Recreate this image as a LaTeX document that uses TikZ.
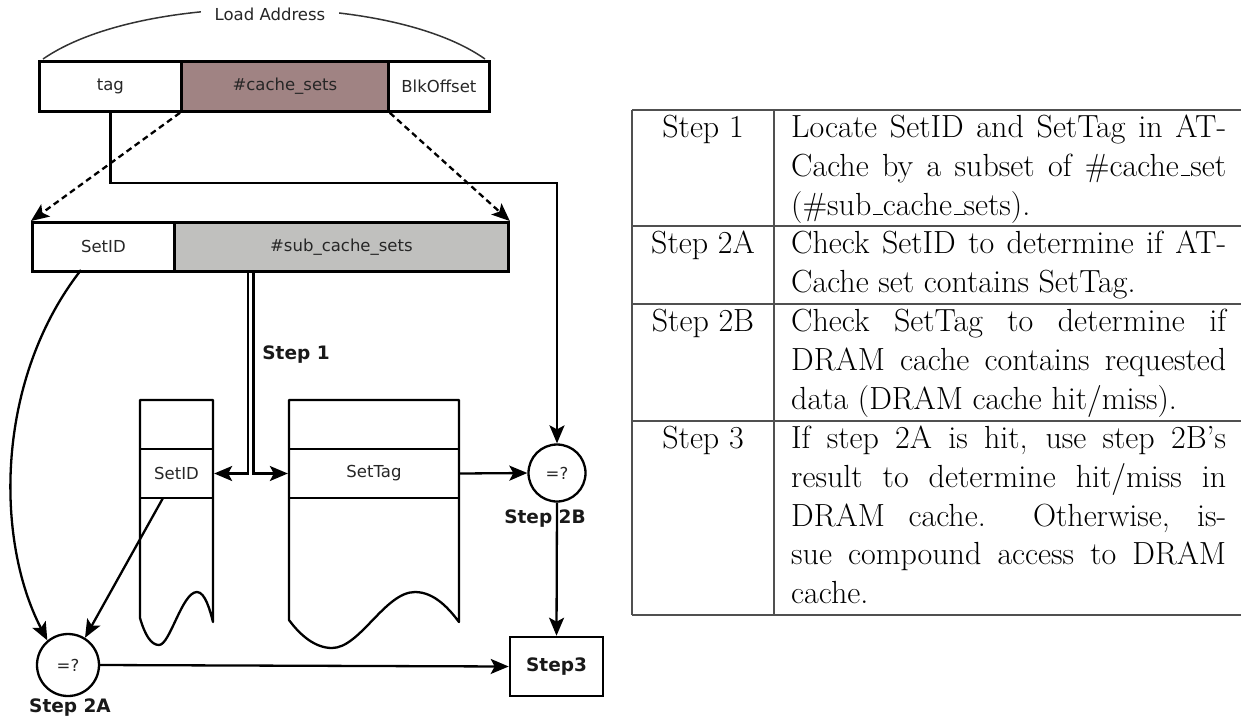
\documentclass[tikz,border=0pt]{standalone}
\usepackage{fontspec}
\newfontfamily\dv{DejaVu Sans}
\usetikzlibrary{arrows.meta}
\newcommand\usc{\leavevmode\kern.06em\vbox{\hrule width .3em height 1.3pt}}
\definecolor{csets}{RGB}{160,131,131}
\definecolor{subsets}{RGB}{192,192,190}
\definecolor{tline}{RGB}{80,80,80}
\begin{document}
\begin{tikzpicture}[x=1pt,y=-1pt,
 lbl/.style={font=\dv\fontsize{16.5}{19}\selectfont, text=black!85},
 blbl/.style={font=\dv\bfseries\fontsize{18.5}{22}\selectfont, text=black!90},
 fld/.style={draw, line width=2.8pt, inner sep=0pt, anchor=north west, lbl},
 rowbox/.style={draw, line width=2.3pt, inner sep=0pt, minimum height=49, lbl},
 arr/.style={line width=2.3pt, -{Stealth[length=18pt,width=15pt,inset=4pt]}},
 dsh/.style={arr, dash pattern=on 6pt off 4pt},
 cmp/.style={circle, draw, line width=2.3pt, inner sep=0pt, lbl},
 col/.style={line width=2.3pt, line join=round},
 tx/.style={font=\fontsize{32}{38.8}\selectfont, inner sep=0pt, anchor=base west},
 th/.style={font=\fontsize{32}{38.8}\selectfont, inner sep=0pt, anchor=base},
 tl/.style={line width=1.8pt, draw=tline},
]
\useasboundingbox (0,0) rectangle (1241,721);

% ---- address fields
\node[fld, minimum width=142, minimum height=50] (tag) at (38,60) {tag};
\node[fld, fill=csets, minimum width=207, minimum height=50] (cs) at (180,60) {\#cache\_sets};
\node[fld, minimum width=101, minimum height=50] (blk) at (387,60) {BlkOffset};

\coordinate (al) at (43,59);
\coordinate (ar) at (485,59);
\draw[line width=1.5pt, black!80] (al) .. controls (140,-8) and (390,-8) .. (ar);
\node[lbl, fill=white, inner xsep=14pt, inner ysep=2pt] (la) at (270,14) {Load Address};

\node[fld, minimum width=142, minimum height=49] (sid) at (31,221) {SetID};
\node[fld, fill=subsets, minimum width=334, minimum height=49] (sub) at (173,221) {\#sub\_cache\_sets};

\draw[dsh] (cs.south west) -- (sid.north west);
\draw[dsh] (cs.south east) -- (sub.north east);

% ---- columns
\draw[col] (140,400) -- (213,400) -- (213,622)
  .. controls (210,610) and (205,592) .. (197,592)
  .. controls (182,592) and (170,645) .. (159,645)
  .. controls (151,645) and (145,635) .. (140,618) -- cycle;
\draw[col] (289,400) -- (459,400) -- (459,622)
  .. controls (450,610) and (435,592) .. (415,592)
  .. controls (385,592) and (360,648) .. (332,648)
  .. controls (315,648) and (300,635) .. (289,620) -- cycle;
\node[rowbox, minimum width=73] (sidr) at (176.5,473.5) {SetID};
\node[rowbox, minimum width=170] (stag) at (374,473.5) {SetTag};

% ---- comparators and step 3
\node[cmp, minimum size=57] (c2b) at (557,473) {=?};
\node[cmp, minimum size=62] (c2a) at (68,665) {=?};
\node[draw, line width=2.6pt, minimum width=93, minimum height=59, blbl] (s3) at (556.5,666.5) {Step3};
\node[blbl] (s2b) at (545,519) {Step 2B};
\node[blbl] (s2a) at (70,708) {Step 2A};
\node[blbl] (s1) at (296,355) {Step 1};

% ---- connectors
\draw[arr] (tag.south) -- ++(0,70) -| (c2b.north);
\coordinate (d1) at (248,270);
\coordinate (d2) at (253.5,270);
\draw[arr] (d1) |- (sidr.east);
\draw[arr] (d2) |- (stag.west);
\draw[arr] (stag.east) -- (c2b.west);
\draw[arr] (c2b.south) -- (s3.north);
\draw[arr] (c2a.east) -- (s3.west);
\coordinate (sidb) at (81,270);
\draw[arr] (sidb) .. controls (-5,380) and (-5,540) .. (c2a.130);
\coordinate (sidrb) at (163,498);
\draw[arr] (sidrb) -- (c2a.58);

% ---- table
\draw[tl] (632,110) -- (1241,110);
\draw[tl] (632,226) -- (1241,226);
\draw[tl] (632,304) -- (1241,304);
\draw[tl] (632,421) -- (1241,421);
\draw[tl] (632,615) -- (1241,615);
\draw[tl] (632,110) -- (632,615);
\draw[tl] (774,110) -- (774,615);

\node[th] (h1) at (703,137.5) {Step 1};
\node[th] (h2) at (703,253.5) {Step 2A};
\node[th] (h3) at (703,331.5) {Step 2B};
\node[th] (h4) at (703,448.5) {Step 3};

\node[tx] (a1) at (791,137.5) {\makebox[435pt][s]{Locate SetID and SetTag in AT-}};
\node[tx] (a2) at (791,176.3) {\makebox[435pt][s]{Cache by a subset of \#cache\usc set}};
\node[tx] (a3) at (791,215.1) {(\#sub\usc cache\usc sets).};
\node[tx] (b1) at (791,253.5) {\makebox[435pt][s]{Check SetID to determine if AT-}};
\node[tx] (b2) at (791,292.3) {Cache set contains SetTag.};
\node[tx] (c1) at (791,331.5) {\makebox[435pt][s]{Check SetTag to determine if}};
\node[tx] (c2) at (791,370.3) {\makebox[435pt][s]{DRAM cache contains requested}};
\node[tx] (c3) at (791,409.1) {data (DRAM cache hit/miss).};
\node[tx] (e1) at (791,448.5) {\makebox[435pt][s]{If step 2A is hit, use step 2B's}};
\node[tx] (e2) at (791,487.3) {\makebox[435pt][s]{result to determine hit/miss in}};
\node[tx] (e3) at (791,526.1) {\makebox[435pt][s]{DRAM cache.\ \ Otherwise, is-}};
\node[tx] (e4) at (791,564.9) {\makebox[435pt][s]{sue compound access to DRAM}};
\node[tx] (e5) at (791,603.7) {cache.};
\end{tikzpicture}
\end{document}
